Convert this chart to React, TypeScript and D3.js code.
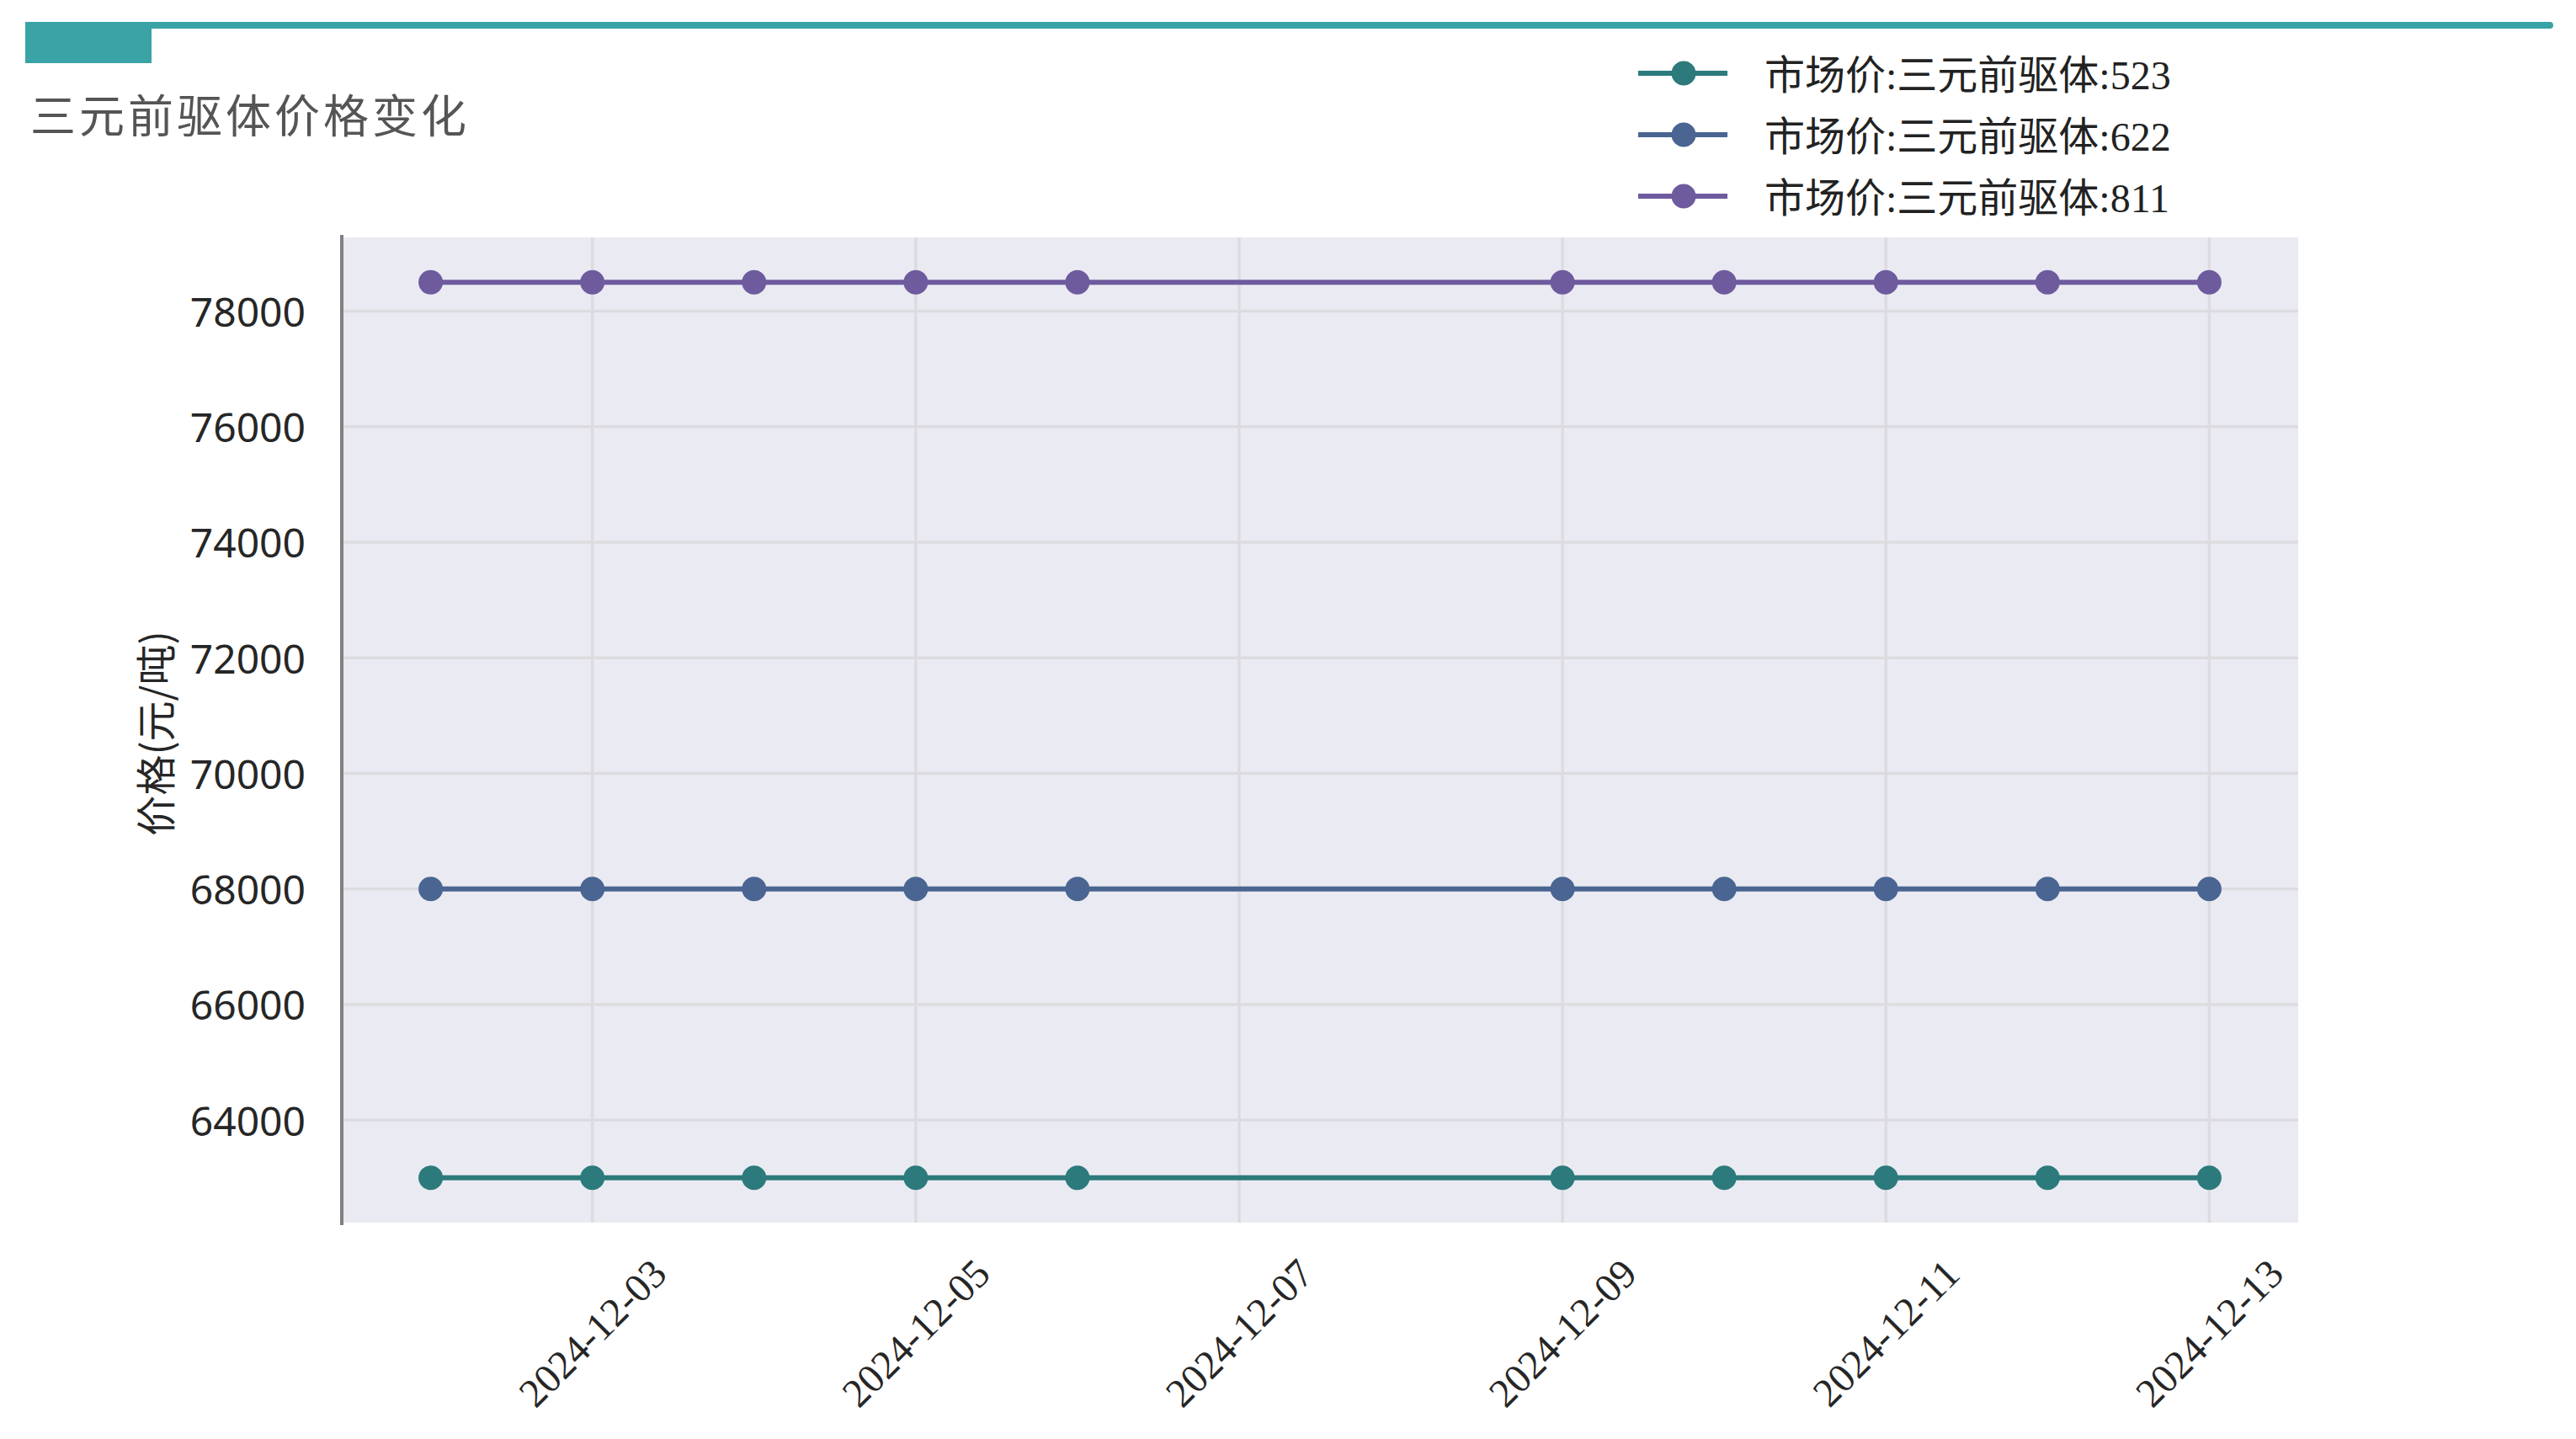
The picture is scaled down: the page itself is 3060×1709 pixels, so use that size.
import * as d3 from 'd3';
import React, { useEffect, useRef } from 'react';

const dates = [
  '2024-12-02',
  '2024-12-03',
  '2024-12-04',
  '2024-12-05',
  '2024-12-06',
  '2024-12-09',
  '2024-12-10',
  '2024-12-11',
  '2024-12-12',
  '2024-12-13',
];
const price523 = [63000, 63000, 63000, 63000, 63000, 63000, 63000, 63000, 63000, 63000];
const price622 = [68000, 68000, 68000, 68000, 68000, 68000, 68000, 68000, 68000, 68000];
const price811 = [78500, 78500, 78500, 78500, 78500, 78500, 78500, 78500, 78500, 78500];
const seriesNames = ['市场价:三元前驱体:523', '市场价:三元前驱体:622', '市场价:三元前驱体:811'];
const seriesColors = ['#2c7a7b', '#4a6591', '#6e5b9e'];
const yTicks = [64000, 66000, 68000, 70000, 72000, 74000, 76000, 78000];
const xTickLabels = ['2024-12-03', '2024-12-05', '2024-12-07', '2024-12-09', '2024-12-11', '2024-12-13'];

const W = 3060;
const H = 1709;
const plot = { left: 406, right: 2730, top: 282, bottom: 1452 };

const App = () => {
  const ref = useRef<SVGSVGElement | null>(null);

  useEffect(() => {
    const svg = d3.select(ref.current);
    svg.selectAll('*').remove();
    const parse = d3.timeParse('%Y-%m-%d');
    const xs = dates.map((d) => parse(d) as Date);
    const series = [price523, price622, price811];

    // matplotlib-like 5% margins
    const [x0, x1] = d3.extent(xs) as [Date, Date];
    const xPad = (x1.getTime() - x0.getTime()) * 0.05;
    const x = d3
      .scaleTime()
      .domain([new Date(x0.getTime() - xPad), new Date(x1.getTime() + xPad)])
      .range([plot.left, plot.right]);
    const all = series.flat();
    const yMin = d3.min(all) as number;
    const yMax = d3.max(all) as number;
    const yPad = (yMax - yMin) * 0.05;
    const y = d3
      .scaleLinear()
      .domain([yMin - yPad, yMax + yPad])
      .range([plot.bottom, plot.top]);

    // header decoration
    svg
      .append('line')
      .attr('x1', 34)
      .attr('x2', 3029)
      .attr('y1', 30)
      .attr('y2', 30)
      .attr('stroke', '#3aa3a5')
      .attr('stroke-width', 8)
      .attr('stroke-linecap', 'round');
    svg
      .append('rect')
      .attr('x', 30)
      .attr('y', 26)
      .attr('width', 150)
      .attr('height', 49)
      .attr('fill', '#3aa3a5');
    svg
      .append('text')
      .attr('x', 36)
      .attr('y', 158)
      .attr('fill', '#555555')
      .style('font-family', "'Noto Sans CJK SC', sans-serif")
      .style('font-size', '54px')
      .style('letter-spacing', '4px')
      .text('三元前驱体价格变化');

    // plot background
    svg
      .append('rect')
      .attr('x', plot.left)
      .attr('y', plot.top)
      .attr('width', plot.right - plot.left)
      .attr('height', plot.bottom - plot.top)
      .attr('fill', '#eaeaf2');

    // grid
    svg
      .selectAll('line.hgrid')
      .data(yTicks)
      .join('line')
      .attr('class', 'hgrid')
      .attr('x1', plot.left)
      .attr('x2', plot.right)
      .attr('y1', (d) => y(d))
      .attr('y2', (d) => y(d))
      .attr('stroke', '#dcdce0')
      .attr('stroke-width', 3.5);
    svg
      .selectAll('line.vgrid')
      .data(xTickLabels)
      .join('line')
      .attr('class', 'vgrid')
      .attr('x1', (d) => x(parse(d) as Date))
      .attr('x2', (d) => x(parse(d) as Date))
      .attr('y1', plot.top)
      .attr('y2', plot.bottom)
      .attr('stroke', '#dcdce0')
      .attr('stroke-width', 3.5);

    // left spine
    svg
      .append('line')
      .attr('x1', plot.left)
      .attr('x2', plot.left)
      .attr('y1', plot.top - 3)
      .attr('y2', plot.bottom + 3)
      .attr('stroke', '#808080')
      .attr('stroke-width', 4);

    // y tick labels
    svg
      .selectAll('text.ytick')
      .data(yTicks)
      .join('text')
      .attr('class', 'ytick')
      .attr('x', plot.left - 43)
      .attr('y', (d) => y(d))
      .attr('text-anchor', 'end')
      .attr('dominant-baseline', 'central')
      .attr('fill', '#262626')
      .style('font-family', "'Noto Sans', sans-serif")
      .style('font-size', '48px')
      .text((d) => String(d));

    // x tick labels
    svg
      .selectAll('text.xtick')
      .data(xTickLabels)
      .join('text')
      .attr('class', 'xtick')
      .attr('transform', (d) => `translate(${x(parse(d) as Date)},1583) rotate(-45)`)
      .attr('text-anchor', 'middle')
      .attr('dominant-baseline', 'central')
      .attr('fill', '#262626')
      .style('font-family', "'Liberation Serif', serif")
      .style('font-size', '48px')
      .text((d) => d);

    // y axis title
    svg
      .append('text')
      .attr('transform', 'translate(182,871) rotate(-90)')
      .attr('text-anchor', 'middle')
      .attr('dominant-baseline', 'central')
      .attr('fill', '#262626')
      .style('font-family', "'Noto Sans CJK SC', sans-serif")
      .style('font-size', '48px')
      .text('价格(元/吨)');

    // series
    const line = d3
      .line<number>()
      .x((_, i) => x(xs[i]))
      .y((d) => y(d));
    series.forEach((values, k) => {
      const g = svg.append('g');
      g.append('path')
        .attr('d', line(values) as string)
        .attr('fill', 'none')
        .attr('stroke', seriesColors[k])
        .attr('stroke-width', 6);
      g.selectAll('circle')
        .data(values)
        .join('circle')
        .attr('cx', (_, i) => x(xs[i]))
        .attr('cy', (d) => y(d))
        .attr('r', 14.5)
        .attr('fill', seriesColors[k]);
    });

    // legend
    const legend = svg
      .selectAll('g.legend')
      .data(seriesNames)
      .join('g')
      .attr('class', 'legend')
      .attr('transform', (_, i) => `translate(0,${87 + i * 73})`);
    legend
      .append('line')
      .attr('x1', 1946)
      .attr('x2', 2052)
      .attr('stroke', (_, i) => seriesColors[i])
      .attr('stroke-width', 6);
    legend
      .append('circle')
      .attr('cx', 2000)
      .attr('r', 14.5)
      .attr('fill', (_, i) => seriesColors[i]);
    legend
      .append('text')
      .attr('x', 2096)
      .attr('y', 2)
      .attr('dominant-baseline', 'central')
      .attr('fill', '#222222')
      .style('font-family', "'Liberation Serif', 'Noto Sans CJK SC', serif")
      .style('font-size', '48px')
      .text((d) => d);
  }, []);

  return (
    <svg
      ref={ref}
      width={W}
      height={H}
      style={{ position: 'absolute', left: 0, top: 0, background: '#ffffff' }}
    />
  );
};

export default App;
